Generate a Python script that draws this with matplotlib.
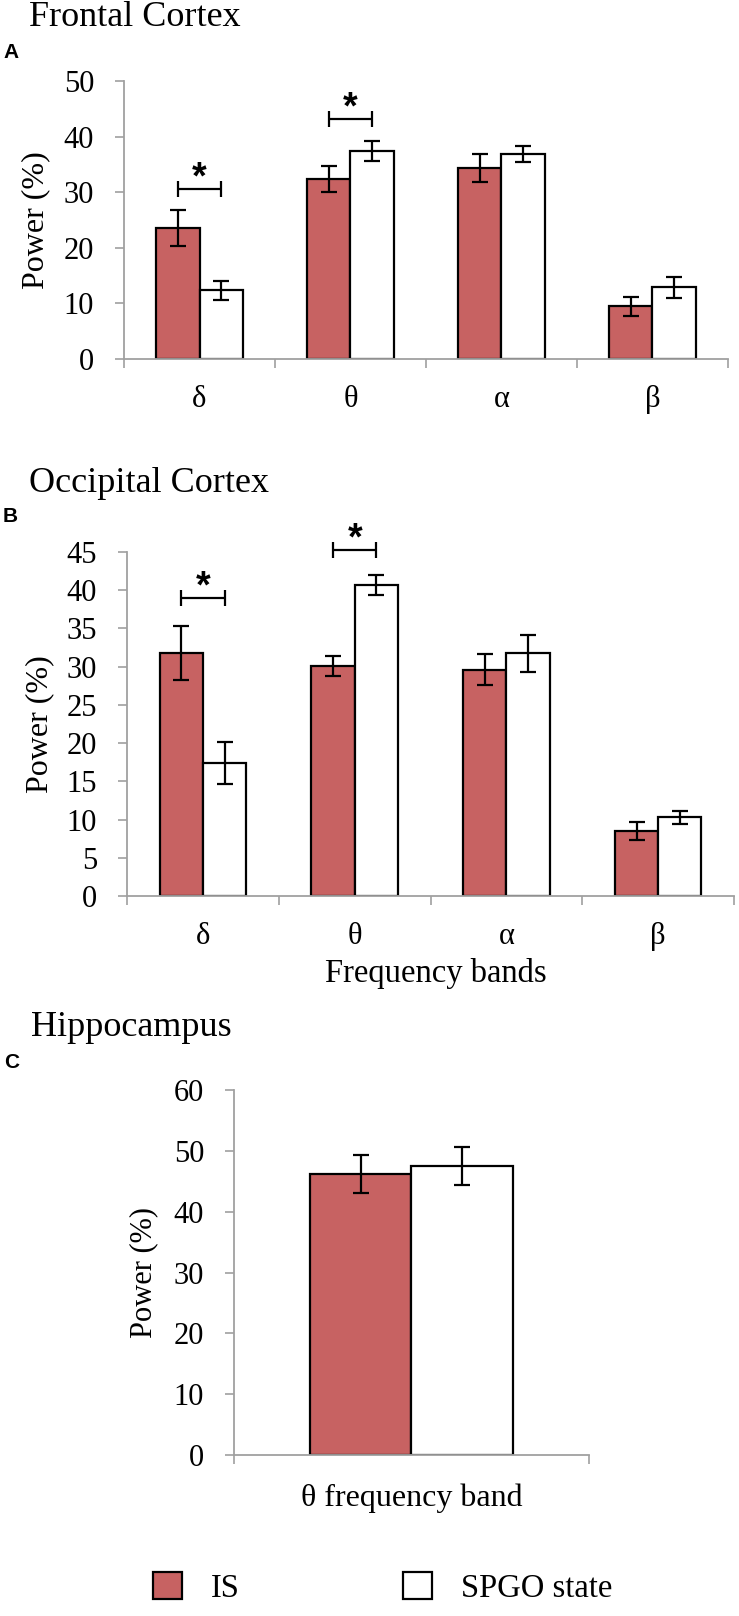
import numpy as np
import matplotlib
matplotlib.use("Agg")
import matplotlib.pyplot as plt
from matplotlib.patches import Patch

plt.rcParams["font.family"] = ["Liberation Serif", "DejaVu Serif"]

# Band names and group labels
bands = ["δ", "θ", "α", "β"]
groups = ["IS", "SPGO state"]

# Frontal cortex (panel A)
frontal_is = [23.6, 32.4, 34.4, 9.5]
frontal_is_err = [3.3, 2.35, 2.5, 1.75]
frontal_spgo = [12.4, 37.5, 36.9, 12.9]
frontal_spgo_err = [1.7, 1.8, 1.5, 1.85]
frontal_sig = [0, 1]            # bands with a significant difference
frontal_sig_y = [30.6, 43.2]    # bracket height

# Occipital cortex (panel B)
occipital_is = [31.8, 30.1, 29.6, 8.5]
occipital_is_err = [3.5, 1.35, 2.0, 1.15]
occipital_spgo = [17.4, 40.7, 31.75, 10.3]
occipital_spgo_err = [2.75, 1.3, 2.4, 0.85]
occipital_sig = [0, 1]
occipital_sig_y = [39.0, 45.3]

# Hippocampus (panel C)
hippo_band = ["θ frequency band"]
hippo_is = [46.2]
hippo_is_err = [3.1]
hippo_spgo = [47.5]
hippo_spgo_err = [3.1]

IS_COLOR = "#C76262"
GREY = "#A0A0A0"
W = 0.285


def draw_panel(ax, labels, a, a_err, b, b_err, ymax, ystep,
               sig=(), sig_y=(), show_xlabels=True):
    n = len(a)
    x = np.arange(n) + 0.5
    ax.bar(x - W / 2, a, W, color=IS_COLOR, edgecolor="black", linewidth=1.6, zorder=2)
    ax.bar(x + W / 2, b, W, color="white", edgecolor="black", linewidth=1.6, zorder=2)
    ax.errorbar(x - W / 2, a, yerr=a_err, fmt="none", ecolor="black",
                elinewidth=1.6, capsize=6, capthick=1.6, zorder=3)
    ax.errorbar(x + W / 2, b, yerr=b_err, fmt="none", ecolor="black",
                elinewidth=1.6, capsize=6, capthick=1.6, zorder=3)

    # significance brackets with stars
    for i, h in zip(sig, sig_y):
        eb = ax.errorbar(x[i], h, xerr=W / 2, fmt="none", ecolor="black",
                         elinewidth=1.6, capsize=6, capthick=1.6)
        for art in eb.get_children():
            art.set_clip_on(False)
        ax.text(x[i], h, "*", ha="center", va="baseline", fontsize=27,
                fontweight="bold", family="Liberation Sans", clip_on=False)

    ax.set_xlim(0, n)
    ax.set_ylim(0, ymax)
    ax.set_yticks(np.arange(0, ymax + 1, ystep))
    ax.set_xticks(np.arange(n + 1))
    ax.set_xticklabels([])
    if show_xlabels:
        ax.set_xticks(x, minor=True)
        ax.set_xticklabels(labels, minor=True)
    ax.tick_params(axis="x", which="minor", length=0, pad=19, labelsize=22)
    ax.tick_params(axis="x", which="major", length=6.5, width=1.2, color=GREY)
    ax.tick_params(axis="y", length=6.5, width=1.2, color=GREY,
                   labelsize=22, pad=15)
    for s in ["top", "right"]:
        ax.spines[s].set_visible(False)
    for s in ["left", "bottom"]:
        ax.spines[s].set_color(GREY)
        ax.spines[s].set_linewidth(1.3)


fig = plt.figure(figsize=(7.39, 16.16), dpi=100)

axA = fig.add_axes([0.1678, 0.7778, 0.8173, 0.1720])
draw_panel(axA, bands, frontal_is, frontal_is_err, frontal_spgo, frontal_spgo_err,
           50, 10, frontal_sig, frontal_sig_y)
axA.set_ylabel("Power (%)", fontsize=23)
axA.yaxis.label.set_va("center")
axA.yaxis.set_label_coords(-0.1457, 0.5)

axB = fig.add_axes([0.1719, 0.4455, 0.8214, 0.2129])
draw_panel(axB, bands, occipital_is, occipital_is_err, occipital_spgo, occipital_spgo_err,
           45, 5, occipital_sig, occipital_sig_y)
axB.set_ylabel("Power (%)", fontsize=23)
axB.yaxis.label.set_va("center")
axB.yaxis.set_label_coords(-0.1433, 0.5)
fig.text(436 / 739, 1 - 982 / 1616, "Frequency bands", ha="center", va="baseline", fontsize=23.5)

axC = fig.add_axes([0.3166, 0.0996, 0.4804, 0.2259])
draw_panel(axC, hippo_band, hippo_is, hippo_is_err, hippo_spgo, hippo_spgo_err,
           60, 10, show_xlabels=False)
axC.set_ylabel("Power (%)", fontsize=22)
axC.yaxis.label.set_va("center")
axC.yaxis.set_label_coords(-0.2535, 0.5)
fig.text(412 / 739, 1 - 1498 / 1616, hippo_band[0], ha="center", va="center", fontsize=23)

# Panel titles and letters
fig.text(29 / 739, 1 - 18 / 1616, "Frontal Cortex", ha="left", va="center", fontsize=26)
fig.text(3 / 739, 1 - 53 / 1616, "A", ha="left", va="center", fontsize=15,
         fontweight="bold", family="Liberation Sans")
fig.text(29 / 739, 1 - 483 / 1616, "Occipital Cortex", ha="left", va="center", fontsize=26)
fig.text(3 / 739, 1 - 517 / 1616, "B", ha="left", va="center", fontsize=15,
         fontweight="bold", family="Liberation Sans")
fig.text(31 / 739, 1 - 1027 / 1616, "Hippocampus", ha="left", va="center", fontsize=26)
fig.text(4 / 739, 1 - 1063 / 1616, "C", ha="left", va="center", fontsize=15,
         fontweight="bold", family="Liberation Sans")

# Legend
handles = [Patch(facecolor=IS_COLOR, edgecolor="black", linewidth=1.6),
           Patch(facecolor="white", edgecolor="black", linewidth=1.6)]
fig.legend(handles, groups, loc="center left", bbox_to_anchor=(153 / 739, 1 - 1588 / 1616),
           ncol=2, frameon=False, fontsize=23.5, handlelength=0.89, handleheight=0.86,
           handletextpad=0.89, columnspacing=5.0, borderpad=0, borderaxespad=0)

fig.savefig("out.png", dpi=100)
